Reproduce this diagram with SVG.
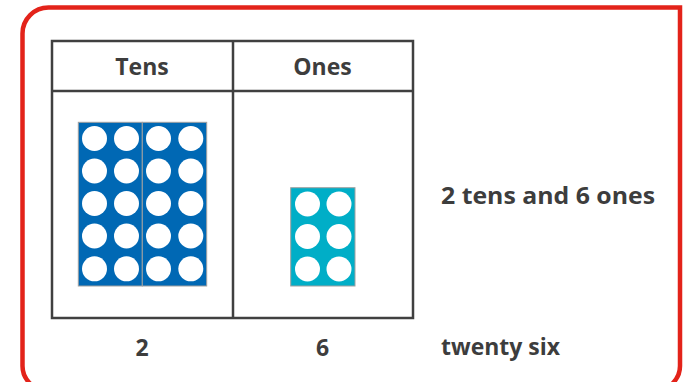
<svg xmlns="http://www.w3.org/2000/svg" width="687" height="382" viewBox="0 0 687 382">
<style>
.t{font-family:"Open Sans","Liberation Sans",Arial,sans-serif;font-weight:bold;font-size:23px;fill:#3d3d3d}
.grid{fill:none;stroke:#404040;stroke-width:2.5}
.blue{fill:#0068b4;stroke:#a0a0a0;stroke-width:1}
.teal{fill:#00aec7;stroke:#a0a0a0;stroke-width:1}
.dot{fill:#ffffff}
</style>
<rect width="687" height="382" fill="#ffffff"/>
<path d="M22.5,33.5 A26,26 0 0 1 48.5,7.5 L680,7.5 L680,366 A24,24 0 0 1 656,390 L46.5,390 A24,24 0 0 1 22.5,366 Z" fill="none" stroke="#e3231a" stroke-width="4.5"/>
<g id="table">
<rect class="grid" x="52" y="41" width="361" height="277"/>
<line class="grid" x1="52" y1="91" x2="413" y2="91"/>
<line class="grid" x1="233" y1="41" x2="233" y2="318"/>
</g>
<g id="tens-header"><text class="t" x="142" y="75" text-anchor="middle">Tens</text></g>
<g id="ones-header"><text class="t" x="322.5" y="75" text-anchor="middle">Ones</text></g>
<g id="ten-block-1">
<rect class="blue" x="78.3" y="122.3" width="64" height="163.7"/>
<g class="dot">
<circle cx="94.5" cy="138.5" r="12.5"/><circle cx="126.5" cy="138.5" r="12.5"/>
<circle cx="94.5" cy="171" r="12.5"/><circle cx="126.5" cy="171" r="12.5"/>
<circle cx="94.5" cy="203.5" r="12.5"/><circle cx="126.5" cy="203.5" r="12.5"/>
<circle cx="94.5" cy="236" r="12.5"/><circle cx="126.5" cy="236" r="12.5"/>
<circle cx="94.5" cy="268.8" r="12.5"/><circle cx="126.5" cy="268.8" r="12.5"/>
</g>
</g>
<g id="ten-block-2">
<rect class="blue" x="142.3" y="122.3" width="64.4" height="163.7"/>
<g class="dot">
<circle cx="158.5" cy="138.5" r="12.5"/><circle cx="190.8" cy="138.5" r="12.5"/>
<circle cx="158.5" cy="171" r="12.5"/><circle cx="190.8" cy="171" r="12.5"/>
<circle cx="158.5" cy="203.5" r="12.5"/><circle cx="190.8" cy="203.5" r="12.5"/>
<circle cx="158.5" cy="236" r="12.5"/><circle cx="190.8" cy="236" r="12.5"/>
<circle cx="158.5" cy="268.8" r="12.5"/><circle cx="190.8" cy="268.8" r="12.5"/>
</g>
</g>
<g id="six-block">
<rect class="teal" x="290.7" y="187.7" width="64.3" height="98.3"/>
<g class="dot">
<circle cx="307.5" cy="204" r="12.5"/><circle cx="339" cy="204" r="12.5"/>
<circle cx="307.5" cy="236.5" r="12.5"/><circle cx="339" cy="236.5" r="12.5"/>
<circle cx="307.5" cy="269" r="12.5"/><circle cx="339" cy="269" r="12.5"/>
</g>
</g>
<g id="label-tens-ones"><text class="t" x="441" y="203.5" textLength="214" lengthAdjust="spacingAndGlyphs">2 tens and 6 ones</text></g>
<g id="label-2"><text class="t" x="142" y="356" text-anchor="middle">2</text></g>
<g id="label-6"><text class="t" x="322.5" y="356" text-anchor="middle">6</text></g>
<g id="label-words"><text class="t" x="441" y="355" textLength="119" lengthAdjust="spacingAndGlyphs">twenty six</text></g>
<g id="connectors"></g>
</svg>
